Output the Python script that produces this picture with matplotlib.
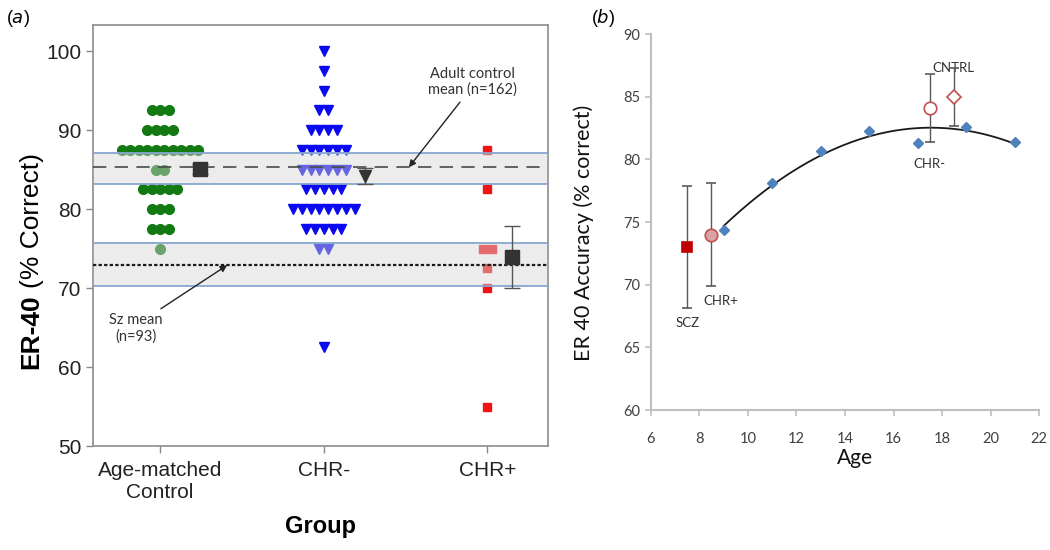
import matplotlib.pyplot as plt
import numpy as np

# panel (a): individual ER-40 scores
control_scores = [92.5]*3 + [90]*4 + [87.5]*10 + [85]*2 + [82.5]*5 + [80]*3 + [77.5]*3 + [75]
chr_neg_scores = ([100, 97.5, 95] + [92.5]*2 + [90]*4 + [87.5]*6 + [85]*6 + [82.5]*5
                  + [80]*8 + [77.5]*5 + [75]*2 + [62.5])
chr_pos_scores = [87.5, 82.5, 75, 75, 72.5, 70, 55]
group_labels = ['Age-matched\nControl', 'CHR-', 'CHR+']
group_means = [85.1, 84.2, 73.9]
group_errs = [0.6, 1.0, 3.9]
adult_mean = 85.3
adult_band = (83.2, 87.1)
sz_mean = 72.9
sz_band = (70.2, 75.7)

# panel (b): accuracy by age
ages = [9, 11, 13, 15, 17, 19, 21]
age_acc = [74.4, 78.1, 80.7, 82.3, 81.3, 82.6, 81.4]
grp_names = ['SCZ', 'CHR+', 'CHR-', 'CNTRL']
grp_age = [7.5, 8.5, 17.5, 18.5]
grp_acc = [73.0, 74.0, 84.1, 85.0]
grp_err = [4.85, 4.1, 2.75, 2.3]

ARIAL = 'Liberation Sans'
CALIBRI = 'Lato'


def spread(x0, vals, step):
    xs, ys = [], []
    for v in sorted(set(vals), reverse=True):
        n = vals.count(v)
        for i in range(n):
            xs.append(x0 + (i - (n - 1) / 2) * step)
            ys.append(v)
    return xs, ys


fig = plt.figure(figsize=(10.5, 5.5), dpi=100)
ax1 = fig.add_axes([0.0886, 0.189, 0.4333, 0.7655])
ax2 = fig.add_axes([0.6197, 0.2545, 0.3701, 0.6835])

# ---- panel (a)
xs, ys = spread(1, control_scores, 0.052)
ax1.plot(xs, ys, 'o', color='#137a13', ms=7, mec='#137a13', zorder=2)
xs, ys = spread(2, chr_neg_scores, 0.054)
ax1.plot(xs, ys, 'v', color='#0a0af0', ms=7, mec='#0a0af0', zorder=2)
xs, ys = spread(3, chr_pos_scores, 0.06)
ax1.plot(xs, ys, 's', color='#f01414', ms=5.5, mec='#f01414', zorder=2)

for lo, hi in [adult_band, sz_band]:
    ax1.axhspan(lo, hi, facecolor=(0.84, 0.84, 0.84, 0.45), edgecolor='#86a6d0',
                lw=1.3, zorder=3)
ax1.axhline(adult_mean, color='#4a4a4a', lw=1.2, ls=(0, (8, 5)), zorder=4)
ax1.axhline(sz_mean, color='#1a1a1a', lw=1.6, ls=(0, (1.5, 1)), zorder=4)

mean_offset = [0.245, 0.25, 0.15]
mean_marker = ['s', 'v', 's']
mean_size = [10, 9, 10]
for i in range(3):
    ax1.errorbar(i + 1 + mean_offset[i], group_means[i], yerr=group_errs[i],
                 fmt=mean_marker[i], color='#333333', ms=mean_size[i], ecolor='#555555',
                 elinewidth=1, capsize=6, zorder=5)

ax1.annotate('Adult control\nmean (n=162)', xy=(2.52, adult_mean), xytext=(2.91, 96.1),
             ha='center', va='center', fontsize=10.5, family=CALIBRI, color='#333333',
             arrowprops=dict(arrowstyle='-|>', color='#222222', lw=1,
                             mutation_scale=10, relpos=(0.4, 0), shrinkA=2, shrinkB=0),
             zorder=6)
ax1.annotate('Sz mean\n(n=93)', xy=(1.41, sz_mean), xytext=(0.85, 64.9),
             ha='center', va='center', fontsize=10.5, family=CALIBRI, color='#333333',
             arrowprops=dict(arrowstyle='-|>', color='#222222', lw=1,
                             mutation_scale=10, relpos=(0.85, 1), shrinkA=2, shrinkB=0),
             zorder=6)

ax1.set_xlim(0.59, 3.37)
ax1.set_ylim(50, 103.3)
ax1.set_yticks(range(50, 101, 10))
ax1.set_xticks([1, 2, 3])
ax1.set_xticklabels(group_labels, family=ARIAL)
for lab in ax1.get_yticklabels():
    lab.set_family(ARIAL)
ax1.tick_params(axis='both', labelsize=15, colors='#888888', labelcolor='#222222',
                length=5, width=1)
ax1.tick_params(axis='x', pad=6)
for sp in ax1.spines.values():
    sp.set_color('#8c8c8c')
    sp.set_linewidth(1.2)
ax1.set_xlabel('Group', fontsize=17, fontweight='bold', family=ARIAL, labelpad=9)
ax1.text(-0.135, 0.36, 'ER-40', transform=ax1.transAxes, rotation=90, fontsize=19,
         fontweight='bold', family=ARIAL, ha='center', va='top')
ax1.text(-0.135, 0.375, '(% Correct)', transform=ax1.transAxes, rotation=90,
         fontsize=19, family=ARIAL, ha='center', va='bottom')
fig.text(0.017, 0.967, r'($\it{a}$)', fontsize=13, family=ARIAL, ha='center', va='center')

# ---- panel (b)
ax2.plot(ages, age_acc, 'D', color='#4f81bd', ms=5, zorder=3)
coef = np.polyfit(ages, age_acc, 2)
xfit = np.linspace(min(ages), max(ages), 200)
ax2.plot(xfit, np.polyval(coef, xfit), color='#1a1a1a', lw=1.3, zorder=2)

styles = [dict(fmt='s', mfc='#c00000', mec='#c00000', ms=7.5),
          dict(fmt='o', mfc='#d9a3a3', mec='#c0504d', ms=9),
          dict(fmt='o', mfc='white', mec='#c0504d', ms=9),
          dict(fmt='D', mfc='white', mec='#c0504d', ms=7)]
label_off = [(0, -76), (9, -66), (-1, -56), (-1, 29)]
for i in range(4):
    ax2.errorbar(grp_age[i], grp_acc[i], yerr=grp_err[i], ecolor='#595959',
                 elinewidth=1, capsize=3.5, mew=1.2, zorder=4, **styles[i])
    ax2.annotate(grp_names[i], (grp_age[i], grp_acc[i]), xytext=label_off[i],
                 textcoords='offset pixels', ha='center', va='center', fontsize=9.5,
                 family=CALIBRI, color='#333333')

ax2.set_xlim(6, 22)
ax2.set_ylim(60, 90)
ax2.set_xticks(range(6, 23, 2))
ax2.set_yticks(range(60, 91, 5))
for sp in ['top', 'right']:
    ax2.spines[sp].set_visible(False)
for sp in ['left', 'bottom']:
    ax2.spines[sp].set_color('#bfbfbf')
    ax2.spines[sp].set_linewidth(1.5)
ax2.tick_params(axis='both', labelsize=10.5, colors='#bfbfbf', labelcolor='#404040',
                length=4, width=1.2)
ax2.tick_params(axis='x', pad=12)
for lab in ax2.get_xticklabels() + ax2.get_yticklabels():
    lab.set_family(CALIBRI)
ax2.text(0.526, -0.127, 'Age', transform=ax2.transAxes, fontsize=15, family=CALIBRI,
         ha='center', va='center', color='#111111')
ax2.text(-0.172, 0.47, 'ER 40 Accuracy (% correct)', transform=ax2.transAxes,
         rotation=90, fontsize=15.5, family=CALIBRI, ha='center', va='center',
         color='#111111')
fig.text(0.574, 0.967, r'($\it{b}$)', fontsize=13, family=ARIAL, ha='center', va='center')

fig.savefig('out.png', dpi=100)
